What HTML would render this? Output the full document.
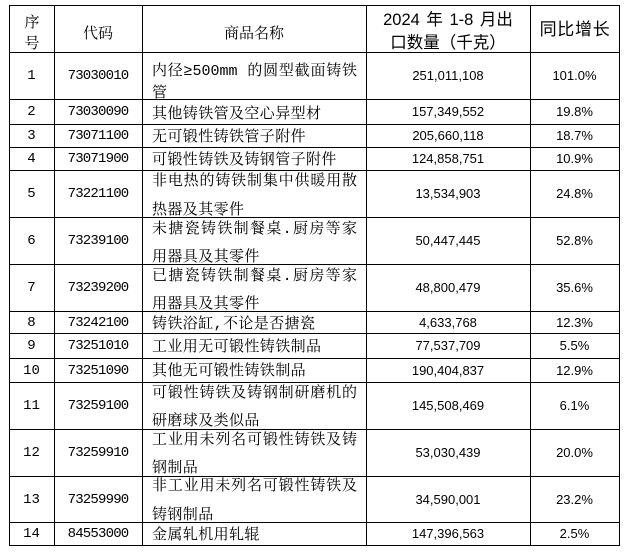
<!DOCTYPE html>
<html><head><meta charset="utf-8">
<style>
html,body{margin:0;padding:0;background:#fff;}
body{width:631px;height:553px;position:relative;overflow:hidden;}
.h{position:absolute;left:9px;width:611px;height:1px;background:#000;}
.v{position:absolute;top:5px;width:1px;height:541px;background:#000;}
.c{position:absolute;display:flex;align-items:center;justify-content:center;color:#000;white-space:nowrap;}
.num{font-family:"Liberation Mono","Liberation Serif",monospace;font-size:14px;left:9px;width:45px;padding-top:1px;box-sizing:border-box;}
.code{font-family:"Liberation Mono",monospace;font-size:14px;letter-spacing:-0.8px;left:54px;width:88px;padding-top:1px;box-sizing:border-box;}
.qty{font-family:"Liberation Sans",Arial,sans-serif;font-size:13px;left:366px;width:164px;}
.pct{font-family:"Liberation Sans",Arial,sans-serif;font-size:13px;left:530px;width:89px;}
.t{position:absolute;left:152px;font-family:"Liberation Mono","Noto Serif CJK SC",serif;font-size:15px;letter-spacing:0.4px;line-height:20px;height:20px;white-space:nowrap;color:#000;margin-top:3px;}
.j{width:205px;text-align:justify;text-align-last:justify;letter-spacing:0;}
.hd{position:absolute;font-family:"Liberation Serif","Noto Serif CJK SC",serif;font-size:15px;line-height:20px;text-align:center;color:#000;white-space:nowrap;margin-top:2px;}
.hs{position:absolute;font-family:"Liberation Sans","Noto Sans CJK SC",sans-serif;line-height:20px;text-align:center;color:#000;white-space:nowrap;}
</style></head><body>

<!-- grid lines -->
<div class="h" style="top:5px"></div>
<div class="h" style="top:52px"></div>
<div class="h" style="top:99px"></div>
<div class="h" style="top:124px"></div>
<div class="h" style="top:147px"></div>
<div class="h" style="top:170px"></div>
<div class="h" style="top:217px"></div>
<div class="h" style="top:264px"></div>
<div class="h" style="top:311px"></div>
<div class="h" style="top:333px"></div>
<div class="h" style="top:358px"></div>
<div class="h" style="top:382px"></div>
<div class="h" style="top:429px"></div>
<div class="h" style="top:476px"></div>
<div class="h" style="top:522px"></div>
<div class="h" style="top:545px"></div>

<div class="v" style="left:9px"></div>
<div class="v" style="left:54px"></div>
<div class="v" style="left:142px"></div>
<div class="v" style="left:366px"></div>
<div class="v" style="left:530px"></div>
<div class="v" style="left:619px"></div>

<!-- header -->
<div class="hd" style="left:9px;width:46px;top:11px;">序</div>
<div class="hd" style="left:9px;width:46px;top:32px;">号</div>
<div class="hd" style="left:54px;width:88px;top:22px;">代码</div>
<div class="hd" style="left:142px;width:224px;top:22px;">商品名称</div>
<div class="hs" style="left:366px;width:164px;top:10px;font-size:16.5px;word-spacing:2px;">2024 年 1-8 月出</div>
<div class="hs" style="left:366px;width:164px;top:33px;font-size:16.5px;">口数量（千克）</div>
<div class="hs" style="left:530px;width:90px;top:20px;font-size:17px;letter-spacing:0.7px;">同比增长</div>

<!-- row 1 -->
<div class="c num" style="top:52px;height:47px;">1</div>
<div class="c code" style="top:52px;height:47px;">73030010</div>
<div class="t j" style="top:59px;">内径≥500mm 的圆型截面铸铁</div>
<div class="t" style="top:81px;">管</div>
<div class="c qty" style="top:52px;height:47px;">251,011,108</div>
<div class="c pct" style="top:52px;height:47px;">101.0%</div>

<!-- row 2 -->
<div class="c num" style="top:99px;height:25px;">2</div>
<div class="c code" style="top:99px;height:25px;">73030090</div>
<div class="t" style="top:102px;">其他铸铁管及空心异型材</div>
<div class="c qty" style="top:99px;height:25px;">157,349,552</div>
<div class="c pct" style="top:99px;height:25px;">19.8%</div>

<!-- row 3 -->
<div class="c num" style="top:124px;height:23px;">3</div>
<div class="c code" style="top:124px;height:23px;">73071100</div>
<div class="t" style="top:125px;">无可锻性铸铁管子附件</div>
<div class="c qty" style="top:124px;height:23px;">205,660,118</div>
<div class="c pct" style="top:124px;height:23px;">18.7%</div>

<!-- row 4 -->
<div class="c num" style="top:147px;height:23px;">4</div>
<div class="c code" style="top:147px;height:23px;">73071900</div>
<div class="t" style="top:148px;">可锻性铸铁及铸钢管子附件</div>
<div class="c qty" style="top:147px;height:23px;">124,858,751</div>
<div class="c pct" style="top:147px;height:23px;">10.9%</div>

<!-- row 5 -->
<div class="c num" style="top:170px;height:47px;">5</div>
<div class="c code" style="top:170px;height:47px;">73221100</div>
<div class="t j" style="top:169px;">非电热的铸铁制集中供暖用散</div>
<div class="t" style="top:198px;">热器及其零件</div>
<div class="c qty" style="top:170px;height:47px;">13,534,903</div>
<div class="c pct" style="top:170px;height:47px;">24.8%</div>

<!-- row 6 -->
<div class="c num" style="top:217px;height:47px;">6</div>
<div class="c code" style="top:217px;height:47px;">73239100</div>
<div class="t j" style="top:217px;">未搪瓷铸铁制餐桌.厨房等家</div>
<div class="t" style="top:245px;">用器具及其零件</div>
<div class="c qty" style="top:217px;height:47px;">50,447,445</div>
<div class="c pct" style="top:217px;height:47px;">52.8%</div>

<!-- row 7 -->
<div class="c num" style="top:264px;height:47px;">7</div>
<div class="c code" style="top:264px;height:47px;">73239200</div>
<div class="t j" style="top:264px;">已搪瓷铸铁制餐桌.厨房等家</div>
<div class="t" style="top:292px;">用器具及其零件</div>
<div class="c qty" style="top:264px;height:47px;">48,800,479</div>
<div class="c pct" style="top:264px;height:47px;">35.6%</div>

<!-- row 8 -->
<div class="c num" style="top:311px;height:22px;">8</div>
<div class="c code" style="top:311px;height:22px;">73242100</div>
<div class="t" style="top:312px;">铸铁浴缸,不论是否搪瓷</div>
<div class="c qty" style="top:311px;height:22px;">4,633,768</div>
<div class="c pct" style="top:311px;height:22px;">12.3%</div>

<!-- row 9 -->
<div class="c num" style="top:333px;height:25px;">9</div>
<div class="c code" style="top:333px;height:25px;">73251010</div>
<div class="t" style="top:335px;">工业用无可锻性铸铁制品</div>
<div class="c qty" style="top:333px;height:25px;">77,537,709</div>
<div class="c pct" style="top:333px;height:25px;">5.5%</div>

<!-- row 10 -->
<div class="c num" style="top:358px;height:24px;">10</div>
<div class="c code" style="top:358px;height:24px;">73251090</div>
<div class="t" style="top:359px;">其他无可锻性铸铁制品</div>
<div class="c qty" style="top:358px;height:24px;">190,404,837</div>
<div class="c pct" style="top:358px;height:24px;">12.9%</div>

<!-- row 11 -->
<div class="c num" style="top:382px;height:47px;">11</div>
<div class="c code" style="top:382px;height:47px;">73259100</div>
<div class="t j" style="top:381px;">可锻性铸铁及铸钢制研磨机的</div>
<div class="t" style="top:409px;">研磨球及类似品</div>
<div class="c qty" style="top:382px;height:47px;">145,508,469</div>
<div class="c pct" style="top:382px;height:47px;">6.1%</div>

<!-- row 12 -->
<div class="c num" style="top:429px;height:47px;">12</div>
<div class="c code" style="top:429px;height:47px;">73259910</div>
<div class="t j" style="top:428px;">工业用未列名可锻性铸铁及铸</div>
<div class="t" style="top:456px;">钢制品</div>
<div class="c qty" style="top:429px;height:47px;">53,030,439</div>
<div class="c pct" style="top:429px;height:47px;">20.0%</div>

<!-- row 13 -->
<div class="c num" style="top:476px;height:46px;">13</div>
<div class="c code" style="top:476px;height:46px;">73259990</div>
<div class="t j" style="top:474px;">非工业用未列名可锻性铸铁及</div>
<div class="t" style="top:503px;">铸钢制品</div>
<div class="c qty" style="top:476px;height:46px;">34,590,001</div>
<div class="c pct" style="top:476px;height:46px;">23.2%</div>

<!-- row 14 -->
<div class="c num" style="top:522px;height:23px;">14</div>
<div class="c code" style="top:522px;height:23px;">84553000</div>
<div class="t" style="top:523px;">金属轧机用轧辊</div>
<div class="c qty" style="top:522px;height:23px;">147,396,563</div>
<div class="c pct" style="top:522px;height:23px;">2.5%</div>

</body></html>
